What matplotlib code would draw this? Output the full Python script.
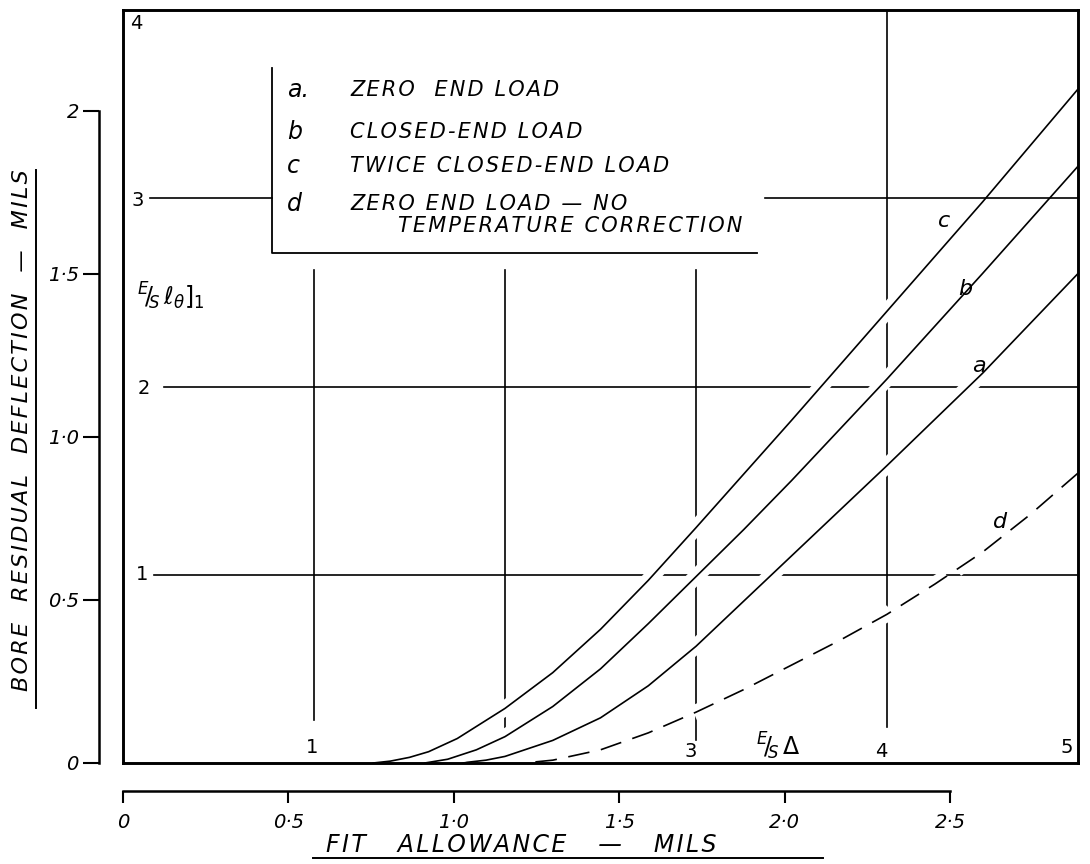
import numpy as np
import matplotlib
matplotlib.use('Agg')
import matplotlib.pyplot as plt
import matplotlib.patheffects as pe
from matplotlib.lines import Line2D

# ── Curves, in E/S units (x = E/S·Δ, y = E/S·e_θ]1) ─────────────────────────
A_X = [1.77, 1.9, 2.0, 2.25, 2.5, 2.75, 3.0, 3.25, 3.5, 3.75, 4.0, 4.5, 5.0]
A_Y = [0.0, 0.015, 0.035, 0.12, 0.24, 0.41, 0.62, 0.86, 1.10, 1.34, 1.58, 2.07, 2.60]

B_X = [1.58, 1.7, 1.85, 2.0, 2.25, 2.5, 2.75, 3.0, 3.25, 3.5, 3.75, 4.0, 4.5, 5.0]
B_Y = [0.0, 0.02, 0.07, 0.14, 0.30, 0.50, 0.74, 0.99, 1.24, 1.50, 1.77, 2.04, 2.60, 3.17]

C_X = [1.31, 1.4, 1.5, 1.6, 1.75, 2.0, 2.25, 2.5, 2.75, 3.0, 3.5, 4.0, 4.5, 5.0]
C_Y = [0.0, 0.01, 0.03, 0.06, 0.13, 0.29, 0.48, 0.71, 0.97, 1.25, 1.82, 2.40, 2.98, 3.58]

D_X = [2.10, 2.25, 2.5, 2.75, 3.0, 3.25, 3.5, 3.75, 4.0, 4.25, 4.5, 4.75, 5.0]
D_Y = [0.0, 0.015, 0.07, 0.16, 0.27, 0.39, 0.52, 0.65, 0.79, 0.95, 1.12, 1.32, 1.54]

LEGEND_KEYS  = ["a.", "b", "c", "d"]
LEGEND_LINES = ["ZERO  END LOAD", "CLOSED-END LOAD", "TWICE CLOSED-END LOAD",
                "ZERO END LOAD — NO"]
LEGEND_EXTRA = "TEMPERATURE CORRECTION"

MIL = np.sqrt(3)   # E/S units per mil on both scales

BORE_TICKS  = [0, 0.5, 1.0, 1.5, 2.0]
BORE_LABELS = ["0", "0·5", "1·0", "1·5", "2"]
FIT_TICKS   = [0, 0.5, 1.0, 1.5, 2.0, 2.5]
FIT_LABELS  = ["0", "0·5", "1·0", "1·5", "2·0", "2·5"]

# grid pieces (value, start, end) -- broken where the legend sits
H_LINES = [(1, 0.16, 5), (2, 0.215, 5), (3, 0.14, 0.78)]
H_TOP   = (3, 3.36, 5)
V_LINES = [(1, 0.23, 2.62), (2, 0.175, 2.62), (3, 0.12, 2.62), (4, 0.19, 4)]


def spaced(s, gap='\u200a'):
    # hand lettering is wide: pad every letter a little
    return gap.join(s)


fig = plt.figure(figsize=(10.9, 8.64), dpi=100)
ax = fig.add_axes([123 / 1090, 1 - 763 / 864, 955 / 1090, 753 / 864])
ax.set_xlim(0, 5)
ax.set_ylim(0, 4)
ax.set_xticks([])
ax.set_yticks([])
for s in ax.spines.values():
    s.set_linewidth(2.1)
    s.set_color('black')
    s.set_zorder(5)

for y, x0, x1 in H_LINES:
    ax.plot([x0, x1], [y, y], color='black', lw=1.2, zorder=1)
ax.plot([H_TOP[1], H_TOP[2]], [H_TOP[0]] * 2, color='black', lw=1.2, zorder=3)
for x, y0, y1 in V_LINES:
    ax.plot([x, x], [y0, y1], color='black', lw=1.2, zorder=1)

# legend frame
ax.plot([0.78, 0.78, 3.32], [3.69, 2.71, 2.71], color='black', lw=1.3, zorder=1)

halo = [pe.Stroke(linewidth=11, foreground='white'), pe.Normal()]
for xs, ys in [(A_X, A_Y), (B_X, B_Y), (C_X, C_Y)]:
    ax.plot(xs, ys, color='black', lw=1.2, zorder=2, path_effects=halo)
# drawn right-to-left so the dash pattern starts at the frame
ax.plot(D_X[::-1], D_Y[::-1], color='black', lw=1.2, dashes=(13, 7), zorder=2,
        path_effects=halo)

# grid numbers
num_kw = dict(fontsize=14, color='black', ha='center', va='center', zorder=6)
ax.text(0.07, 3.93, "4", **num_kw)
ax.text(0.075, 2.99, "3", **num_kw)
ax.text(0.11, 1.99, "2", **num_kw)
ax.text(0.10, 1.0, "1", **num_kw)
ax.text(0.99, 0.08, "1", **num_kw)
ax.text(2.97, 0.06, "3", **num_kw)
ax.text(3.97, 0.06, "4", **num_kw)
ax.text(4.94, 0.08, "5", **num_kw)

ax.text(3.43, 0.09, r"$^{E}\!/\!_{S}\,\Delta$", fontsize=17, ha='center', va='center', zorder=6)
ax.text(0.25, 2.48, r"$^{E}\!/\!_{S}\,\ell_{\theta}]_{1}$", fontsize=17, ha='center', va='center', zorder=6)

# curve letters
lab_kw = dict(fontsize=16, style='italic', ha='center', va='center', zorder=6)
ax.text(4.30, 2.88, "c", **lab_kw)
ax.text(4.41, 2.52, "b", **lab_kw)
ax.text(4.48, 2.11, "a", **lab_kw)
ax.text(4.59, 1.28, "d", **lab_kw)

# legend text
leg_y = [3.575, 3.35, 3.17, 2.97]
for key, txt, y in zip(LEGEND_KEYS, LEGEND_LINES, leg_y):
    ax.text(0.86, y, key, fontsize=17, style='italic', ha='left', va='center')
    ax.text(1.19, y, spaced(txt), fontsize=15, style='italic', ha='left', va='center')
ax.text(1.44, 2.85, spaced(LEGEND_EXTRA), fontsize=15, style='italic',
        ha='left', va='center')

# bore residual deflection scale (left)
sec_y = ax.secondary_yaxis(-0.0251, functions=(lambda v: v / MIL, lambda v: v * MIL))
sec_y.set_yticks(BORE_TICKS)
sec_y.set_yticklabels(BORE_LABELS, fontsize=14, style='italic')
sec_y.spines['left'].set_bounds(0, 2)
sec_y.spines['left'].set_linewidth(1.8)
sec_y.tick_params(length=11.5, width=1.5, pad=3)

# fit allowance scale (bottom)
sec_x = ax.secondary_xaxis(-0.0372, functions=(lambda v: v / MIL, lambda v: v * MIL))
sec_x.set_xticks(FIT_TICKS)
sec_x.set_xticklabels(FIT_LABELS, fontsize=14, style='italic')
sec_x.spines['bottom'].set_bounds(0, 2.5)
sec_x.spines['bottom'].set_linewidth(1.8)
sec_x.tick_params(length=8.6, width=1.5, pad=7)

fig.text(22 / 1090, 1 - 430 / 864, spaced("BORE  RESIDUAL  DEFLECTION  —  MILS"),
         rotation=90, ha='center', va='center', fontsize=16, style='italic')
fig.add_artist(Line2D([36 / 1090, 36 / 1090], [1 - 170 / 864, 1 - 708 / 864],
                      transform=fig.transFigure, color='black', lw=1.4))

fig.text(521 / 1090, 1 - 845 / 864, spaced("FIT   ALLOWANCE   —   MILS"),
         ha='center', va='center', fontsize=17, style='italic')
fig.add_artist(Line2D([313 / 1090, 823 / 1090], [1 - 858 / 864, 1 - 858 / 864],
                      transform=fig.transFigure, color='black', lw=1.4))

fig.savefig("out.png", dpi=100, facecolor='white')
